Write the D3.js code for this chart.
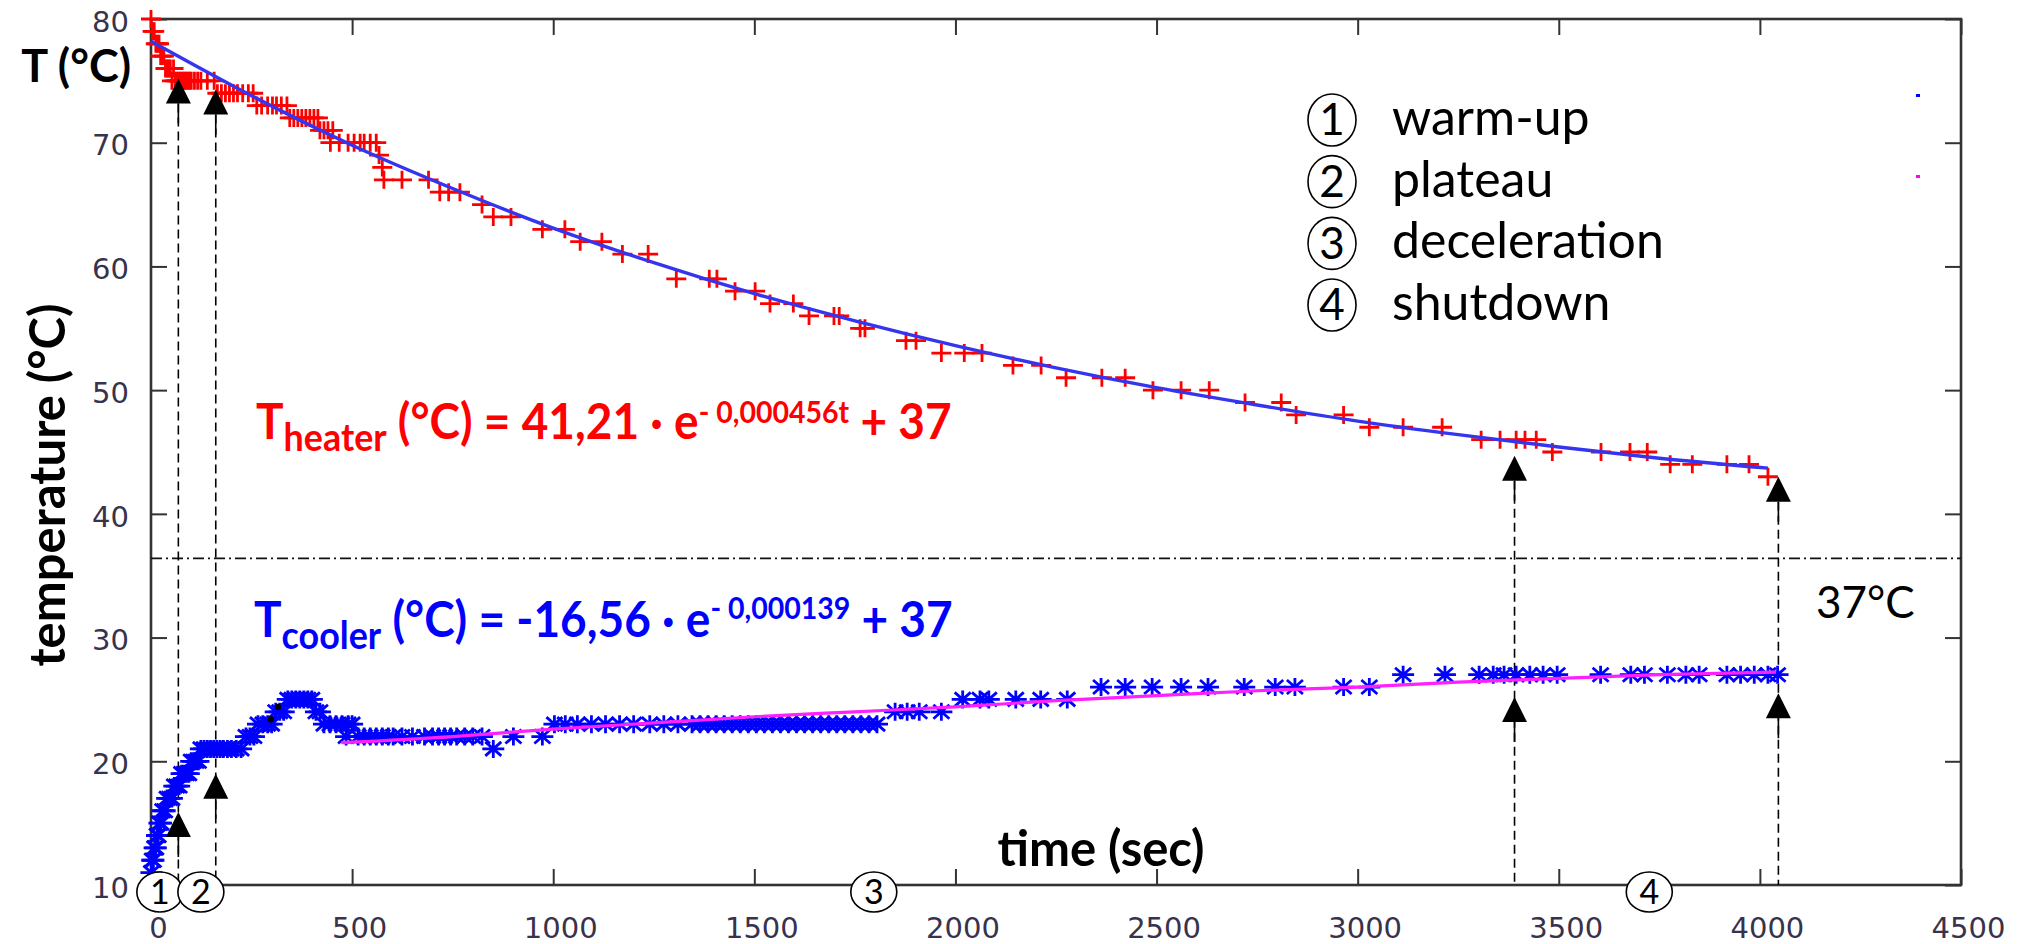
<!DOCTYPE html>
<html>
<head>
<meta charset="utf-8">
<script src="https://d3js.org/d3.v7.min.js"></script>
<style>
  body { margin: 0; background: #fff; }
  svg text { font-family: Lato, "Open Sans", sans-serif; }
  .tick text { font-family: "DejaVu Sans", sans-serif; font-size: 29px; fill: #38324d; }
  .tick line { stroke: #333; stroke-width: 2; }
</style>
</head>
<body>
<div id="chart"></div>
<script>
// ---- data ----
var xTicks = [0, 500, 1000, 1500, 2000, 2500, 3000, 3500, 4000, 4500];
var yTicks = [10, 20, 30, 40, 50, 60, 70, 80];

// heater measurements [t (s), T (°C)]
var heaterPts = [
  [0,80],[4,79],[8,79],[12,78],[16,78],[20,78],[24,77],[28,77],[32,77],[36,76],[40,76],[44,76],
  [48,76],[52,75],[56,76],[60,75],[64,75],[68,75],[72,75],[76,75],[80,75],[84,75],[88,75],[92,75],
  [96,75],[100,75],[108,75],[116,75],[124,75],[140,75],[157,75],
  [165,74],[175,74],[185,74],[195,74],[205,74],[215,74],[228,74],[242,74],[254,74],
  [263,73],[275,73],[290,73],[302,73],[312,73],[324,73],[338,73],
  [345,72],[355,72],[365,72],[375,72],[385,72],[395,72],[405,72],[415,72],
  [420,71],[430,71],[440,71],[452,71],[446,70],
  [468,70],[490,70],[505,70],[520,70],[530,70],[545,70],[560,70],
  [567,69],[575,68],[579,67],[624,67],[690,67],
  [718,66],[740,66],[768,66],[823,65],[851,64],[895,64],
  [973,63],[1029,63],[1067,62],[1121,62],[1172,61],[1236,61],
  [1306,59],[1388,59],[1407,59],[1452,58],[1502,58],[1539,57],[1597,57],
  [1636,56],[1698,56],[1711,56],[1763,55],[1775,55],[1877,54],[1902,54],
  [1965,53],[2022,53],[2066,53],[2143,52],[2213,52],[2275,51],[2364,51],[2422,51],
  [2491,50],[2561,50],[2631,50],[2720,49],[2810,49],[2847,48],[2965,48],
  [3029,47],[3113,47],[3210,47],[3307,46],[3354,46],[3394,46],[3416,46],[3444,46],
  [3484,45],[3605,45],[3677,45],[3720,45],[3777,44],[3832,44],[3918,44],[3973,44],[4020,43]
];

// cooler measurements [t (s), T (°C)]
var coolerPts = [
  [1,11],[3,12],[6,12],[9,13],[12,13],[15,14],[18,14],[21,15],[25,15],[29,16],[34,16],[40,17],
  [46,17],[52,17],[58,18],[64,18],[70,18],[76,19],[82,19],[88,19],[94,19],[100,20],[106,20],
  [112,20],[118,20],[124,21],[132,21],[140,21],[148,21],[156,21],[164,21],[172,21],[180,21],
  [190,21],[200,21],[212,21],[224,21],[236,22],[246,22],[256,22],[266,23],[278,23],[290,23],
  [300,23],[310,24],[320,24],[330,24],[340,25],[350,25],[360,25],[370,25],[380,25],[390,25],
  [400,25],[410,24],[420,24],[430,23],[445,23],[460,23],[475,23],[490,23],[500,23],
  [485,22],[515,22],[530,22],[545,22],[560,22],[575,22],[590,22],[602,22],[624,22],[650,22],
  [680,22],[700,22],[715,22],[730,22],[745,22],[760,22],[780,22],[800,22],[823,22],[851,21],
  [901,22],[973,22],
  [1003,23],[1030,23],[1060,23],[1095,23],[1130,23],[1165,23],[1200,23],[1240,23],[1275,23],
  [1310,23],[1345,23],[1365,23],[1385,23],[1405,23],[1425,23],[1445,23],[1465,23],[1485,23],
  [1505,23],[1525,23],[1545,23],[1565,23],[1585,23],[1605,23],[1625,23],[1645,23],[1665,23],
  [1685,23],[1705,23],[1725,23],[1745,23],[1765,23],[1785,23],[1805,23],
  [1850,24],[1880,24],[1910,24],[1965,24],
  [2018,25],[2061,25],[2083,25],[2150,25],[2212,25],[2278,25],
  [2362,26],[2422,26],[2489,26],[2561,26],[2628,26],[2718,26],[2795,26],[2844,26],[2965,26],[3029,26],
  [3113,27],[3217,27],[3302,27],[3337,27],[3364,27],[3394,27],[3428,27],[3461,27],[3496,27],
  [3604,27],[3679,27],[3713,27],[3770,27],[3816,27],[3849,27],[3918,27],[3952,27],[3986,27],
  [4020,27],[4044,27]
];

// fitted curves as drawn
var heaterFit = [
  [0,78.2],[250,73.8],[500,69.8],[750,66.3],[1000,63.1],[1250,60.3],[1500,57.8],[1750,55.6],
  [2000,53.6],[2250,51.8],[2500,50.2],[2750,48.8],[3000,47.5],[3250,46.4],[3500,45.4],
  [3750,44.5],[4020,43.7]
];
var coolerFit = [
  [473,21.5],[750,22.0],[1000,22.6],[1250,23.1],[1500,23.6],[1750,24.0],[2000,24.4],
  [2250,24.9],[2500,25.3],[2750,25.7],[3000,26.0],[3250,26.4],[3500,26.7],[3750,27.0],[4040,27.2]
];

// stray dots near the cooler peak
var strayDots = [[298,23.4],[316,24.4]];

// phase markers: time, arrow tip on heater, arrow tip on cooler
var phaseTimes = [68, 161, 3390, 4046];
var phaseHot   = [75.2, 74.3, 44.7, 43.0];
var phaseCold  = [15.9, 19.0, 25.2, 25.5];

// circled numbers along the time axis
var phaseNums  = ["1", "2", "3", "4"];
var phaseNumT  = [22, 124, 1797, 3725];

// legend
var phaseNames = ["warm-up", "plateau", "deceleration", "shutdown"];

var bodyTemp = 36.4;   // dash-dot reference line as drawn

// ---- layout ----
var W = 2020, H = 944;
var x = d3.scaleLinear().domain([0, 4500]).range([151, 1961]);
var y = d3.scaleLinear().domain([10, 80]).range([885, 19]);

var svg = d3.select("#chart").append("svg")
    .attr("width", W).attr("height", H);

////////// axes //////////
var gx = svg.append("g").attr("transform", "translate(0," + y(10) + ")")
    .call(d3.axisBottom(x).tickValues(xTicks).tickSize(-16).tickPadding(32).tickFormat(d3.format("d")));
gx.selectAll("text").attr("dx", 7);
svg.append("g").attr("transform", "translate(0," + y(80) + ")")
    .call(d3.axisTop(x).tickValues(xTicks).tickSize(-16).tickFormat(""));
var gy = svg.append("g").attr("transform", "translate(" + x(0) + ",0)")
    .call(d3.axisLeft(y).tickValues(yTicks).tickSize(-16).tickPadding(22));
gy.selectAll("text").attr("dy", "0.42em");
svg.append("g").attr("transform", "translate(" + x(4500) + ",0)")
    .call(d3.axisRight(y).tickValues(yTicks).tickSize(-16).tickFormat(""));
svg.selectAll(".domain").remove();

svg.append("rect")
    .attr("x", x(0)).attr("y", y(80))
    .attr("width", x(4500) - x(0)).attr("height", y(10) - y(80))
    .attr("fill", "none").attr("stroke", "#333").attr("stroke-width", 2.6);

////////// reference line //////////
svg.append("line")
    .attr("x1", x(0)).attr("x2", x(4500))
    .attr("y1", y(bodyTemp)).attr("y2", y(bodyTemp))
    .attr("stroke", "#111").attr("stroke-width", 1.6)
    .attr("stroke-dasharray", "11,4,2,4");

svg.append("text")
    .attr("x", 1816).attr("y", 618)
    .attr("font-size", 44).text("37°C");

////////// phase lines //////////
var phases = phaseTimes.map(function(t, i) { return {t: t, hot: phaseHot[i], cold: phaseCold[i]}; });

svg.selectAll(".phase-line").data(phases).enter().append("line")
    .attr("class", "phase-line")
    .attr("x1", function(d) { return x(d.t); }).attr("x2", function(d) { return x(d.t); })
    .attr("y1", function(d) { return y(d.hot) + 25; }).attr("y2", y(10))
    .attr("stroke", "#000").attr("stroke-width", 1.6)
    .attr("stroke-dasharray", "9,5");

////////// data //////////
var line = d3.line().x(function(d) { return x(d[0]); }).y(function(d) { return y(d[1]); });

svg.append("g").selectAll("path").data(heaterPts).enter().append("path")
    .attr("transform", function(d) { return "translate(" + x(d[0]) + "," + y(d[1]) + ")"; })
    .attr("d", "M-10,0H10M0,-9V9")
    .attr("stroke", "#ff0000").attr("stroke-width", 2.8);

svg.append("g").selectAll("path").data(coolerPts).enter().append("path")
    .attr("transform", function(d) { return "translate(" + x(d[0]) + "," + y(d[1]) + ")"; })
    .attr("d", "M-11,0H11M0,-9V9M-8,-7L8,7M-8,7L8,-7")
    .attr("stroke", "#0000ff").attr("stroke-width", 2.8);

svg.append("path").datum(heaterFit)
    .attr("d", line.curve(d3.curveMonotoneX))
    .attr("fill", "none").attr("stroke", "#3535f0").attr("stroke-width", 3.4);

svg.append("path").datum(coolerFit)
    .attr("d", line)
    .attr("fill", "none").attr("stroke", "#ff20ff").attr("stroke-width", 3.2);

svg.append("g").selectAll("circle").data(strayDots).enter().append("circle")
    .attr("cx", function(d) { return x(d[0]); }).attr("cy", function(d) { return y(d[1]); })
    .attr("r", 3.2).attr("fill", "#000");

// tiny key samples left over at the top right
svg.append("rect").attr("x", 1916).attr("y", 94).attr("width", 4).attr("height", 3).attr("fill", "#0000ff");
svg.append("rect").attr("x", 1916).attr("y", 175).attr("width", 4).attr("height", 3).attr("fill", "#ff00ff");

////////// arrows //////////
function arrow(cx, tipY) {
  svg.append("path")
      .attr("d", "M" + cx + "," + tipY + "L" + (cx + 12.5) + "," + (tipY + 25) + "L" + (cx - 12.5) + "," + (tipY + 25) + "Z")
      .attr("fill", "#000");
  svg.append("line")
      .attr("x1", cx).attr("x2", cx).attr("y1", tipY + 25).attr("y2", tipY + 45)
      .attr("stroke", "#000").attr("stroke-width", 1.6);
}
phases.forEach(function(d) {
  arrow(x(d.t), y(d.hot));
  arrow(x(d.t), y(d.cold));
});

////////// labels //////////
svg.append("text")
    .attr("x", 131).attr("y", 82).attr("text-anchor", "end")
    .attr("font-size", 45).attr("font-weight", "bold").text("T (°C)");

svg.append("text")
    .attr("transform", "translate(65,485) rotate(-90)")
    .attr("text-anchor", "middle")
    .attr("font-size", 49).attr("font-weight", "bold").text("temperature (°C)");

svg.append("text")
    .attr("x", 1101).attr("y", 866).attr("text-anchor", "middle")
    .attr("font-size", 49).attr("font-weight", "bold").text("time (sec)");

// fitted equations (condensed a little, like the original face)
function equation(x0, y0, color, sub, coef, expo, subDy, supDy) {
  var t = svg.append("text")
      .attr("transform", "translate(" + x0 + "," + y0 + ") scale(0.92,1)")
      .attr("fill", color).attr("font-weight", "bold").attr("font-size", 50);
  t.append("tspan").text("T");
  t.append("tspan").attr("font-size", 39).attr("dy", subDy).text(sub);
  t.append("tspan").attr("dy", -subDy).text(" (°C) = " + coef + " · e");
  t.append("tspan").attr("font-size", 31).attr("dy", -supDy).text("- " + expo);
  t.append("tspan").attr("dy", supDy).text(" + 37");
}
equation(256, 439, "#ff0000", "heater", "41,21", "0,000456t", 12, 16);
equation(254, 637, "#0000ff", "cooler", "-16,56", "0,000139", 12, 18);

////////// circled numbers //////////
function circled(cx, cy, rx, ry, label, size) {
  svg.append("ellipse").attr("cx", cx).attr("cy", cy).attr("rx", rx).attr("ry", ry)
      .attr("fill", "#fff").attr("stroke", "#000").attr("stroke-width", 1.6);
  svg.append("text").attr("x", cx).attr("y", cy).attr("dy", "0.35em")
      .attr("text-anchor", "middle").attr("font-size", size).text(label);
}
phaseNumT.forEach(function(t, i) {
  circled(x(t), y(10) + 7, 23, 20, phaseNums[i], 34);
});

var legendY = d3.scalePoint().domain(phaseNames).range([120, 305]);
phaseNames.forEach(function(name, i) {
  circled(1332, legendY(name), 24, 26, phaseNums[i], 44);
  svg.append("text").attr("x", 1392).attr("y", legendY(name) + 15)
      .attr("font-size", 50).text(name);
});
</script>
</body>
</html>
